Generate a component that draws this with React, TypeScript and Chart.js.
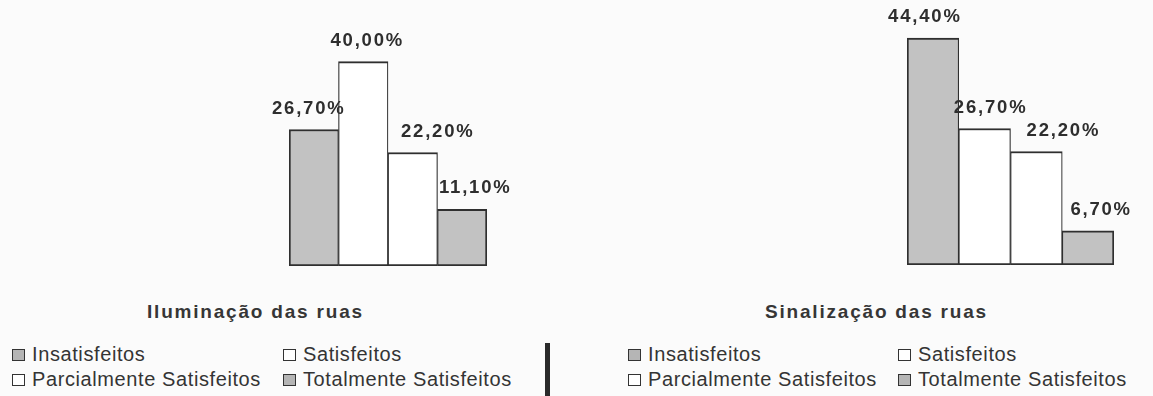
import React, { useEffect, useRef } from 'react';
import { Chart, registerables } from 'chart.js';

Chart.register(...registerables);

const categories = ['Insatisfeitos', 'Satisfeitos', 'Parcialmente Satisfeitos', 'Totalmente Satisfeitos'];
const iluminacaoValues = [26.7, 40.0, 22.2, 11.1];
const sinalizacaoValues = [44.4, 26.7, 22.2, 6.7];
const seriesFills = ['#c2c2c2', '#ffffff', '#ffffff', '#c2c2c2'];
const chartTitles = ['Iluminação das ruas', 'Sinalização das ruas'];
const axisMax = 45;

const FONT = '"Liberation Sans", Arial, sans-serif';
const TEXT = '#343434';

const labelPlugin = {
  id: 'barValueLabels',
  afterDatasetsDraw(chart: any, _args: any, opts: any) {
    const ctx = chart.ctx;
    ctx.save();
    ctx.font = opts.font;
    ctx.fillStyle = opts.color;
    ctx.textAlign = 'center';
    ctx.textBaseline = 'alphabetic';
    (ctx as any).letterSpacing = opts.letterSpacing;
    chart.data.datasets.forEach((ds: any, i: number) => {
      const meta = chart.getDatasetMeta(i);
      meta.data.forEach((el: any, j: number) => {
        const v = ds.data[j] as number;
        const text = v.toFixed(2).replace('.', ',') + '%';
        const dx = (opts.offsets && opts.offsets[i]) || 0;
        ctx.fillText(text, el.x + dx, el.y - opts.gap);
      });
    });
    ctx.restore();
  },
};

type PanelProps = {
  values: number[];
  title: string;
  canvasLeft: number;
  canvasWidth: number;
  pad: { left: number; right: number; top: number; bottom: number };
  labelOffsets: number[];
  titleLeft: number;
  legendCols: number[];
};

function Panel(props: PanelProps) {
  const ref = useRef<HTMLCanvasElement | null>(null);
  const canvasHeight = 290;

  useEffect(() => {
    if (!ref.current) return;
    const n = categories.length;
    const chart = new Chart(ref.current, {
      type: 'bar',
      data: {
        labels: [''],
        datasets: categories.map((name, i) => ({
          label: name,
          data: [props.values[i]],
          backgroundColor: seriesFills[i],
          borderColor: '#2f2f2f',
          borderWidth: { top: 2, bottom: 2, left: i === 0 ? 2 : 1.2, right: i === n - 1 ? 2 : 1.2 },
          borderSkipped: false,
          barPercentage: 1,
          categoryPercentage: 1,
        })),
      },
      options: {
        animation: false,
        responsive: false,
        layout: { padding: props.pad },
        scales: {
          x: { display: false, grid: { display: false } },
          y: { display: false, min: 0, max: axisMax, grid: { display: false } },
        },
        plugins: {
          legend: { display: false },
          tooltip: { enabled: false },
          title: { display: false },
          barValueLabels: {
            font: `bold 18.5px ${FONT}`,
            color: '#2e2e2e',
            letterSpacing: '1.8px',
            gap: 16,
            offsets: props.labelOffsets,
          },
        } as any,
      },
      plugins: [labelPlugin as any],
    });
    return () => chart.destroy();
  }, []);

  const rows = [344, 369];

  return (
    <>
      <canvas
        ref={ref}
        width={props.canvasWidth}
        height={canvasHeight}
        style={{ position: 'absolute', left: props.canvasLeft, top: 0, width: props.canvasWidth, height: canvasHeight }}
      />
      <div
        style={{
          position: 'absolute',
          left: props.titleLeft,
          top: 302,
          font: `bold 19px ${FONT}`,
          lineHeight: '19px',
          letterSpacing: '1.8px',
          color: '#363636',
          whiteSpace: 'nowrap',
        }}
      >
        {props.title}
      </div>
      {categories.map((name, i) => {
        const col = i % 2;
        const row = Math.floor(i / 2);
        return (
          <div
            key={name}
            style={{
              position: 'absolute',
              left: props.legendCols[col],
              top: rows[row],
              height: 20,
              display: 'flex',
              alignItems: 'center',
              whiteSpace: 'nowrap',
            }}
          >
            <span
              style={{
                display: 'inline-block',
                width: 11,
                height: 10,
                background: seriesFills[i] === '#ffffff' ? '#ffffff' : '#b5b5b5',
                border: '1.4px solid #333',
                marginRight: 7,
                marginTop: 1,
              }}
            />
            <span style={{ font: `20px ${FONT}`, lineHeight: '20px', letterSpacing: '0.6px', color: TEXT }}>{name}</span>
          </div>
        );
      })}
    </>
  );
}

export default function App() {
  return (
    <div
      style={{
        position: 'absolute',
        left: 0,
        top: 0,
        width: 1153,
        height: 396,
        background: '#fbfbfb',
        overflow: 'hidden',
      }}
    >
      <Panel
        values={iluminacaoValues}
        title={chartTitles[0]}
        canvasLeft={260}
        canvasWidth={290}
        pad={{ left: 29, right: 63, top: 36, bottom: 24 }}
        labelOffsets={[-5, 4, 25, 13]}
        titleLeft={147}
        legendCols={[12, 283]}
      />
      <Panel
        values={sinalizacaoValues}
        title={chartTitles[1]}
        canvasLeft={880}
        canvasWidth={273}
        pad={{ left: 27, right: 39, top: 35, bottom: 25 }}
        labelOffsets={[-8, 6, 27, 13]}
        titleLeft={765}
        legendCols={[628, 898]}
      />
      <div style={{ position: 'absolute', left: 545, top: 343, width: 5, height: 53, background: '#2a2a2a' }} />
    </div>
  );
}
